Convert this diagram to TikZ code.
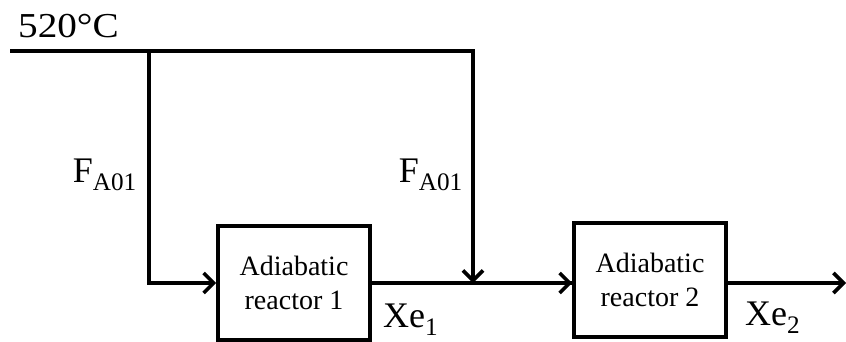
\documentclass[tikz,border=0pt]{standalone}
\usepackage{fontspec}
\setmainfont{Liberation Serif}
\usetikzlibrary{arrows.meta}
\begin{document}
\begin{tikzpicture}[x=1pt,y=-1pt,
  line/.style={line width=3.6pt},
  arr/.style={line/.try, -{Straight Barb[length=10pt,width=20pt,line width=3.6pt]}},
  reactor/.style={draw,line width=3.6pt,minimum width=152pt,minimum height=114pt,inner sep=0pt,align=center,font=\fontsize{28}{34}\selectfont},
  lbl/.style={font=\fontsize{36}{38}\selectfont,inner sep=0pt}]
\useasboundingbox (0,0) rectangle (846,341);
\node[reactor] (r1) at (294,283) {Adiabatic\\reactor 1};
\node[reactor] (r2) at (650,280) {Adiabatic\\reactor 2};
\coordinate (s) at (10,51);
\coordinate (t) at (475,51);
\coordinate (b1) at (149,51);
\coordinate (c1) at (149,283);
\coordinate (m) at (473,283);
\coordinate (e) at (846,283);
\draw[line] (s) -- (t);
\draw[arr] (b1) -- (c1) -- (r1.west |- c1);
\draw[line] (r1.east |- m) -- (r2.west |- m);
\draw[arr] (r2.west |- m) ++(-60,0) -- (r2.west |- m);
\draw[arr] (473,49.2) -- (m);
\draw[arr] (r2.east |- e) -- (e);
\node[lbl,anchor=base west,font=\fontsize{35}{38}\selectfont] (temp) at (18,37) {\scalebox{1.12}[1]{520\textdegree C}};
\node[lbl,anchor=base east] (f1) at (137,182) {F\textsubscript{A01}};
\node[lbl,anchor=base east] (f2) at (463,182) {F\textsubscript{A01}};
\node[lbl,anchor=base west] (x1) at (383,327) {Xe\textsubscript{1}};
\node[lbl,anchor=base west] (x2) at (745,325) {Xe\textsubscript{2}};
\end{tikzpicture}
\end{document}
